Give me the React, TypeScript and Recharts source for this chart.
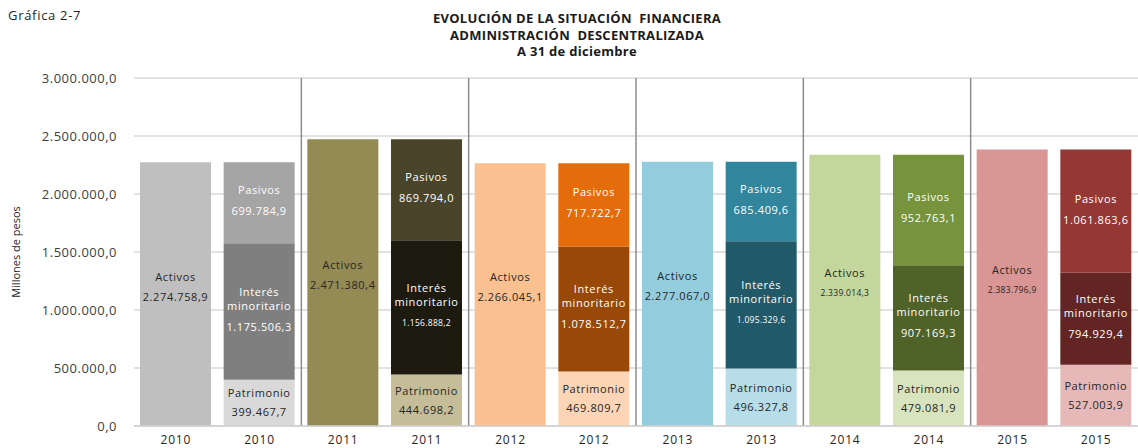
import React from "react";
import {
  Bar,
  BarChart,
  CartesianGrid,
  Cell,
  LabelList,
  ReferenceLine,
  XAxis,
  YAxis,
} from "recharts";

const years = ["2010", "2011", "2012", "2013", "2014", "2015"];
const activos = [2274758.9, 2471380.4, 2266045.1, 2277067.0, 2339014.3, 2383796.9];
const patrimonio = [399467.7, 444698.2, 469809.7, 496327.8, 479081.9, 527003.9];
const interes = [1175506.3, 1156888.2, 1078512.7, 1095329.6, 907169.3, 794929.4];
const pasivos = [699784.9, 869794.0, 717722.7, 685409.6, 952763.1, 1061863.6];
const yTicks = [0, 500000, 1000000, 1500000, 2000000, 2500000, 3000000];

const activosColors = ["#bfbfbf", "#948a54", "#fac090", "#93cddd", "#c3d69b", "#d99694"];
const patrimonioColors = ["#d9d9d9", "#c4bd97", "#fbd5b5", "#b7dde8", "#d7e4bd", "#e6b9b8"];
const interesColors = ["#7f7f7f", "#1d1b10", "#984807", "#215968", "#4f6228", "#632523"];
const pasivosColors = ["#a5a5a5", "#4a452a", "#e46c0a", "#31859c", "#77933c", "#953735"];

type Key = "activos" | "patrimonio" | "interes" | "pasivos";
type Row = {
  id: string;
  year: string;
  yi: number;
  activos: number | null;
  patrimonio: number | null;
  interes: number | null;
  pasivos: number | null;
};

const rows: Row[] = [];
years.forEach((year, i) => {
  rows.push({ id: `${year}-a`, year, yi: i, activos: activos[i], patrimonio: null, interes: null, pasivos: null });
  rows.push({
    id: `${year}-b`,
    year,
    yi: i,
    activos: null,
    patrimonio: patrimonio[i],
    interes: interes[i],
    pasivos: pasivos[i],
  });
});

const fmt = (v: number) => {
  const [int, dec] = v.toFixed(1).split(".");
  return int.replace(/\B(?=(\d{3})+(?!\d))/g, ".") + "," + dec;
};

const FONT = "'Open Sans', sans-serif";

// small value text in a few segments, as in the original
const smallValue = new Set(["2011-interes", "2013-interes", "2014-activos", "2015-activos"]);

// offsets (from segment centre) for the name lines and the value
const layouts: Record<Key, { names: string[]; nameDy: number[]; valueDy: number; fill: string }> = {
  activos: { names: ["Activos"], nameDy: [-18], valueDy: 2, fill: "#262626" },
  pasivos: { names: ["Pasivos"], nameDy: [-13], valueDy: 8, fill: "#ffffff" },
  interes: { names: ["Interés", "minoritario"], nameDy: [-20, -6], valueDy: 15, fill: "#ffffff" },
  patrimonio: { names: ["Patrimonio"], nameDy: [-10], valueDy: 9, fill: "#262626" },
};

const makeLabel = (key: Key) => (props: any) => {
  const { x, y, width, height, value } = props;
  if (value == null || !height) return null;
  const row = rows.find((r) => r[key] === value);
  const l = layouts[key];
  const cx = Number(x) + Number(width) / 2;
  const cy = Number(y) + Number(height) / 2;
  const small = row ? smallValue.has(`${row.year}-${key}`) : false;
  return (
    <g>
      {l.names.map((n, k) => (
        <text
          key={n}
          x={cx}
          y={cy + l.nameDy[k]}
          textAnchor="middle"
          dominantBaseline="central"
          fill={l.fill}
          fontFamily={FONT}
          fontSize={11}
          letterSpacing={0.6}
        >
          {n}
        </text>
      ))}
      <text
        x={cx}
        y={cy + l.valueDy}
        textAnchor="middle"
        dominantBaseline="central"
        fill={l.fill}
        fontFamily={FONT}
        fontSize={small ? 8.5 : 11}
        letterSpacing={small ? 0.3 : 0.6}
      >
        {fmt(Number(value))}
      </text>
    </g>
  );
};

export default function App() {
  return (
    <div
      style={{
        position: "absolute",
        left: 0,
        top: 0,
        width: 1138,
        height: 448,
        background: "#fff",
        fontFamily: FONT,
      }}
    >
      <div style={{ position: "absolute", left: 8, top: 6, fontSize: 13, color: "#262626", letterSpacing: 0.7 }}>
        Gráfica 2-7
      </div>
      <div
        style={{
          position: "absolute",
          left: 327,
          width: 500,
          top: 10,
          textAlign: "center",
          fontSize: 13,
          fontWeight: 700,
          letterSpacing: 0.3,
          lineHeight: "16.5px",
          color: "#1a1a1a",
        }}
      >
        <div>EVOLUCIÓN DE LA SITUACIÓN&nbsp; FINANCIERA</div>
        <div>ADMINISTRACIÓN&nbsp; DESCENTRALIZADA</div>
        <div>A 31 de diciembre</div>
      </div>
      <div style={{ position: "absolute", left: 0, top: 0 }}>
        <BarChart
          width={1138}
          height={448}
          data={rows}
          barSize={71}
          margin={{ top: 78, right: 0, left: 0, bottom: 0 }}
        >
          <CartesianGrid horizontal vertical={false} stroke="#d9d9d9" strokeWidth={1.3} />
          <XAxis
            dataKey="id"
            height={22}
            tickFormatter={(v: string) => v.slice(0, 4)}
            interval={0}
            tickLine={false}
            axisLine={{ stroke: "#d0d0d0", strokeWidth: 1.3 }}
            tick={{ fill: "#262626", fontSize: 12, fontFamily: FONT, letterSpacing: 0.8 }}
            tickMargin={3}
          />
          <YAxis
            width={134}
            domain={[0, 3000000]}
            ticks={yTicks}
            tickFormatter={fmt}
            tickLine={false}
            axisLine={false}
            tickMargin={11}
            tick={{ fill: "#404040", fontSize: 13, fontFamily: FONT, letterSpacing: 0.5 }}
            label={{
              value: "Millones de pesos",
              angle: -90,
              position: "insideLeft",
              offset: 16,
              style: { fill: "#262626", fontSize: 11, fontFamily: FONT, textAnchor: "middle" },
            }}
          />
          {years.slice(1).map((y) => (
            <ReferenceLine key={y} x={`${y}-a`} position="start" stroke="#8c8c8c" strokeWidth={1.5} />
          ))}
          <Bar dataKey="activos" stackId="s" isAnimationActive={false}>
            {rows.map((r) => (
              <Cell key={r.id} fill={activosColors[r.yi]} />
            ))}
            <LabelList dataKey="activos" content={makeLabel("activos")} />
          </Bar>
          <Bar dataKey="patrimonio" stackId="s" isAnimationActive={false}>
            {rows.map((r) => (
              <Cell key={r.id} fill={patrimonioColors[r.yi]} />
            ))}
            <LabelList dataKey="patrimonio" content={makeLabel("patrimonio")} />
          </Bar>
          <Bar dataKey="interes" stackId="s" isAnimationActive={false}>
            {rows.map((r) => (
              <Cell key={r.id} fill={interesColors[r.yi]} />
            ))}
            <LabelList dataKey="interes" content={makeLabel("interes")} />
          </Bar>
          <Bar dataKey="pasivos" stackId="s" isAnimationActive={false}>
            {rows.map((r) => (
              <Cell key={r.id} fill={pasivosColors[r.yi]} />
            ))}
            <LabelList dataKey="pasivos" content={makeLabel("pasivos")} />
          </Bar>
        </BarChart>
      </div>
    </div>
  );
}
